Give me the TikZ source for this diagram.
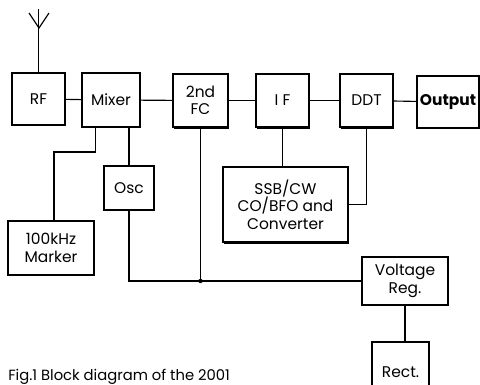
\documentclass[tikz,border=0pt]{standalone}
\usepackage{fontspec}
\setmainfont{Poppins}
\usetikzlibrary{positioning, shadows, calc}

\begin{document}
\begin{tikzpicture}[
  x=0.025cm, y=-0.025cm,
  blk/.style={rectangle, draw=black, line width=0.9pt, fill=white,
    align=center, inner sep=1pt, font=\fontsize{11}{12.5}\selectfont,
    drop shadow={shadow xshift=0.9pt, shadow yshift=-1pt, opacity=1, fill=black}},
  wire/.style={line width=0.8pt, color=black}
]
\useasboundingbox (0,0) rectangle (480,384);

% Main chain
\node[blk, minimum width=1.33cm, minimum height=1.3cm] (rf) at (38.5,99) {RF};
\node[blk, minimum width=1.45cm, minimum height=1.35cm] (mx) at (111,100) {Mixer};
\node[blk, minimum width=1.38cm, minimum height=1.33cm] (fc) at (200.5,100.5) {2nd\\FC};
\node[blk, minimum width=1.33cm, minimum height=1.33cm] (if) at (282.5,100.5) {I F};
\node[blk, minimum width=1.33cm, minimum height=1.33cm] (dd) at (366.5,100.5) {DDT};
\node[blk, minimum width=1.55cm, minimum height=1.3cm, font=\fontsize{11}{12.5}\selectfont\bfseries] (out) at (448,102) {Output};

% Side units
\node[blk, minimum width=1.25cm, minimum height=1.1cm] (osc) at (129,188) {Osc};
\node[blk, minimum width=2.15cm, minimum height=1.35cm] (mk) at (51,248) {100kHz\\Marker};
\node[blk, minimum width=3.13cm, minimum height=1.88cm] (ssb) at (285.5,204.5) {SSB/CW\\CO/BFO and\\Converter};
\node[blk, minimum width=2.15cm, minimum height=1.2cm] (vr) at (405,281) {Voltage\\Reg.};
\node[blk, minimum width=1.43cm, minimum height=1.5cm] (rc) at (400.5,372) {Rect.};

% Antenna
\coordinate (ant) at (39,28);
\draw[wire] (rf.north) -- ++(0,-63);
\draw[wire] (29,13) -- (ant) -- (49,13);

% Connections
\draw[wire] (rf) -- (mx);
\draw[wire] (mx) -- (fc);
\draw[wire] (fc) -- (if);
\draw[wire] (if) -- (dd);
\draw[wire] (dd) -- (out);
\coordinate (knee) at (54,152);
\draw[wire] ([xshift=-0.38cm]mx.south) |- (knee) -- (knee |- mk.north);
\draw[wire] (osc.north |- mx.south) -- (osc.north);
\draw[wire] (if.south) -- (if.south |- ssb.north);
\draw[wire] (dd.south) |- (ssb.east);
\coordinate (jn) at (fc.south |- vr.west);
\draw[wire] (osc.south) |- (vr.west);
\draw[wire] (fc.south) -- (jn);
\fill (jn) circle (2.2);
\draw[wire] (vr.south) -- (vr.south |- rc.north);

% Caption
\node[anchor=base west, inner sep=0pt, font=\fontsize{10.5}{12}\selectfont] (cap) at (8,380) {Fig.1 Block diagram of the 2001};
\end{tikzpicture}
\end{document}
